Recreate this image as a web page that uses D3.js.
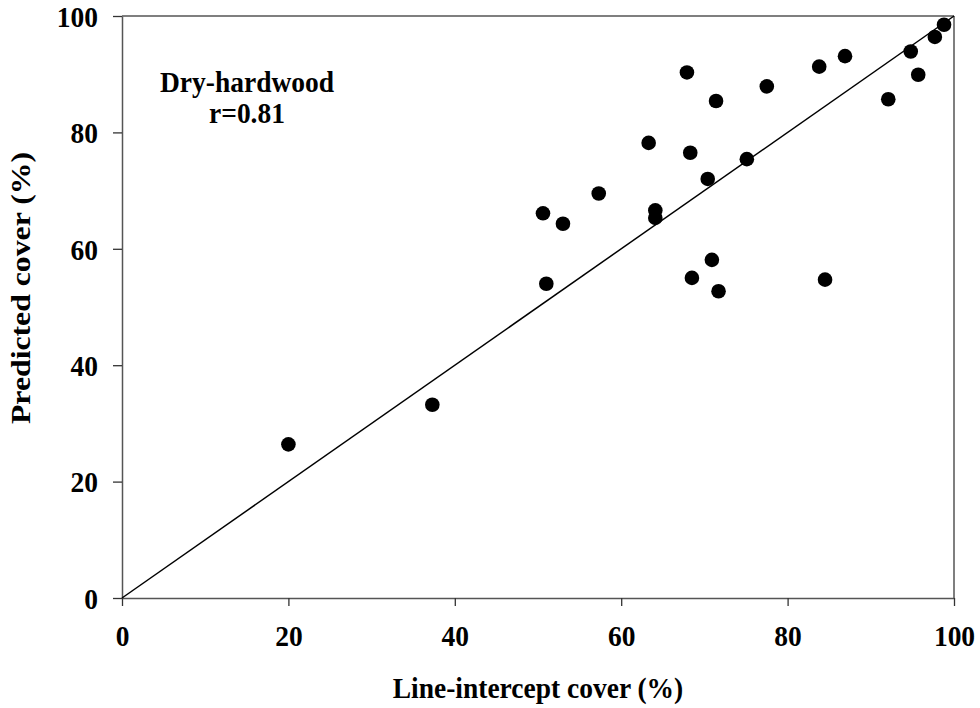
<!DOCTYPE html>
<html>
<head>
<meta charset="utf-8">
<script src="https://cdn.jsdelivr.net/npm/d3@7"></script>
<style>
  html, body { margin: 0; padding: 0; background: #fff; }
  svg { display: block; }
  text { font-family: "Liberation Serif", "Times New Roman", serif; font-weight: bold; fill: #000; }
</style>
</head>
<body>
<svg id="chart" width="980" height="708"></svg>
<script>
const lineIntercept = [20.0, 37.3, 50.6, 51.0, 53.0, 57.3, 63.3, 64.1, 64.1, 67.9, 68.3, 68.5, 70.4, 70.9, 71.4, 71.7, 75.1, 77.5, 83.8, 84.5, 86.9, 92.1, 94.8, 95.7, 97.7, 98.8];
const predicted     = [26.4, 33.2, 66.1, 54.0, 64.3, 69.5, 78.2, 66.6, 65.3, 90.3, 76.5, 55.0, 72.0, 58.1, 85.4, 52.7, 75.4, 87.9, 91.3, 54.7, 93.1, 85.7, 93.9, 89.9, 96.4, 98.5];
const xTicks = [0, 20, 40, 60, 80, 100];
const yTicks = [0, 20, 40, 60, 80, 100];
const xTitle = "Line-intercept cover (%)";
const yTitle = "Predicted cover (%)";
const annotation = ["Dry-hardwood", "r=0.81"];

const svg = d3.select("#chart");
const mLeft = 122, mRight = 954, mTop = 16, mBottom = 598;
const x = d3.scaleLinear().domain([0, 100]).range([mLeft, mRight]);
const y = d3.scaleLinear().domain([0, 100]).range([mBottom, mTop]);
const axisColor = "#555";
const fs = 27.5;
const stretch = 1.1;

// frame top & right
svg.append("line").attr("x1", mLeft).attr("x2", mRight).attr("y1", mTop).attr("y2", mTop)
  .attr("stroke", axisColor).attr("stroke-width", 1.5);
svg.append("line").attr("x1", mRight).attr("x2", mRight).attr("y1", mTop).attr("y2", mBottom)
  .attr("stroke", axisColor).attr("stroke-width", 1.5);

// x axis
const gx = svg.append("g").attr("transform", `translate(0,${mBottom})`)
  .call(d3.axisBottom(x).tickValues(xTicks).tickSize(8).tickSizeOuter(0).tickFormat(d3.format("d")));
gx.select(".domain").attr("stroke", axisColor).attr("stroke-width", 1.5);
gx.selectAll(".tick line").attr("stroke", "#333").attr("stroke-width", 1.3);
gx.selectAll(".tick text")
  .attr("y", 0).attr("dy", 0)
  .attr("transform", `translate(0,48) scale(1,${stretch})`)
  .style("font-size", fs + "px").style("font-family", "Liberation Serif").style("font-weight", "bold").attr("fill", "#000");

// y axis
const gy = svg.append("g").attr("transform", `translate(${mLeft},0)`)
  .call(d3.axisLeft(y).tickValues(yTicks).tickSize(9).tickSizeOuter(0).tickFormat(d3.format("d")));
gy.select(".domain").attr("stroke", axisColor).attr("stroke-width", 1.5);
gy.selectAll(".tick line").attr("stroke", "#333").attr("stroke-width", 1.3);
gy.selectAll(".tick text")
  .attr("x", 0).attr("y", 0).attr("dy", "0.34em")
  .attr("transform", `translate(-24,0) scale(1,${stretch})`)
  .style("font-size", fs + "px").style("font-family", "Liberation Serif").style("font-weight", "bold").attr("fill", "#000");

// 1:1 line
svg.append("line")
  .attr("x1", x(0)).attr("y1", y(0)).attr("x2", x(100)).attr("y2", y(100))
  .attr("stroke", "#000").attr("stroke-width", 1.5);

// points
svg.append("g").selectAll("circle")
  .data(d3.zip(lineIntercept, predicted))
  .join("circle")
  .attr("cx", d => x(d[0])).attr("cy", d => y(d[1]))
  .attr("r", 7.3).attr("fill", "#000");

// titles
svg.append("text").attr("transform", `translate(${(mLeft + mRight) / 2},698) scale(1,${stretch})`)
  .attr("text-anchor", "middle").style("font-size", fs + "px").text(xTitle);
svg.append("text").attr("transform", `translate(30,288) rotate(-90) scale(${stretch * 1.05},1)`)
  .attr("text-anchor", "middle").style("font-size", fs + "px").text(yTitle);

// annotation
svg.append("text").attr("transform", `translate(247,92) scale(1,${stretch})`).attr("text-anchor", "middle")
  .style("font-size", fs + "px").text(annotation[0]);
svg.append("text").attr("transform", `translate(247,123) scale(1,${stretch})`).attr("text-anchor", "middle")
  .style("font-size", fs + "px").text(annotation[1]);
</script>
</body>
</html>
